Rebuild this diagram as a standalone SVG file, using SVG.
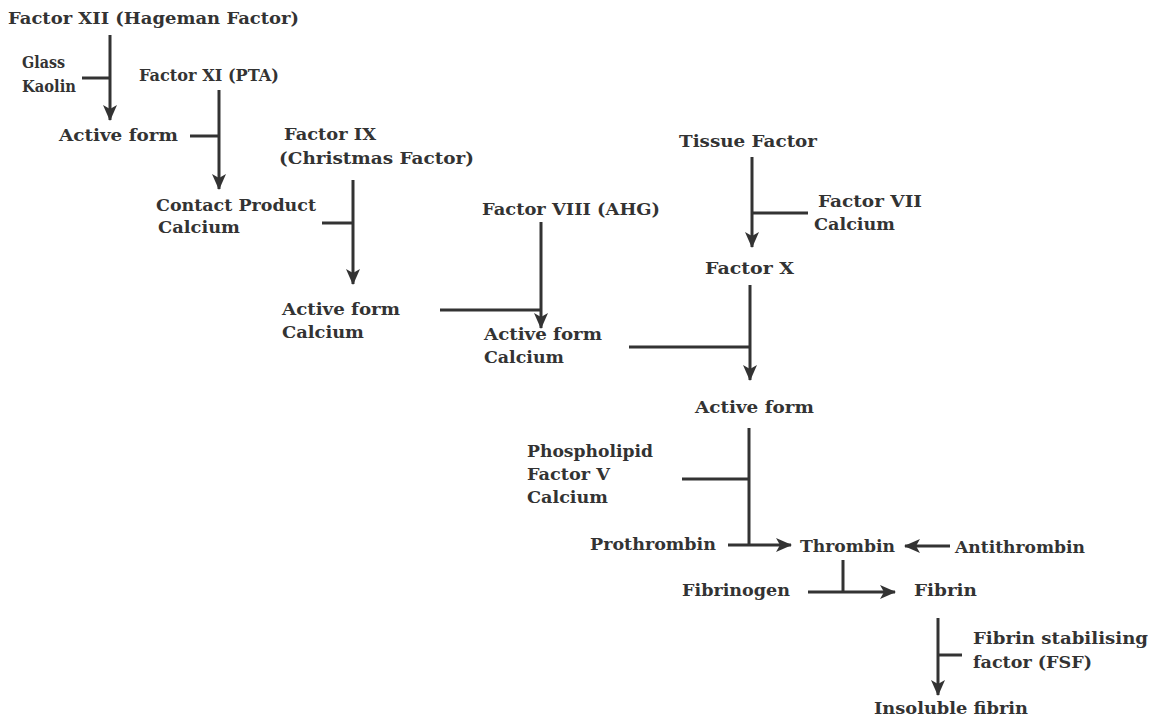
<svg xmlns="http://www.w3.org/2000/svg" width="1156" height="722" viewBox="0 0 1156 722">
<style>
text{font-family:"DejaVu Serif","Liberation Serif",serif;font-weight:bold;font-size:17.5px;fill:#333}
.c line{stroke:#333;stroke-width:3;fill:none}
.a{marker-end:url(#ah)}
</style>
<defs>
<marker id="ah" markerUnits="userSpaceOnUse" viewBox="0 0 16 16" refX="15" refY="8" markerWidth="16" markerHeight="16" orient="auto">
<path d="M0,1 L16,8 L0,15 L4,8 z" fill="#333"/>
</marker>
</defs>
<rect width="1156" height="722" fill="#fff"/>
<g id="n-f12"><text x="8" y="24" textLength="291" lengthAdjust="spacingAndGlyphs">Factor XII (Hageman Factor)</text></g>
<g id="n-glass"><text x="22" y="68" textLength="43" lengthAdjust="spacingAndGlyphs">Glass</text><text x="22" y="92" textLength="54" lengthAdjust="spacingAndGlyphs">Kaolin</text></g>
<g id="n-f11"><text x="139" y="81" textLength="140" lengthAdjust="spacingAndGlyphs">Factor XI (PTA)</text></g>
<g id="n-act1"><text x="59" y="141" textLength="119" lengthAdjust="spacingAndGlyphs">Active form</text></g>
<g id="n-f9"><text x="284" y="140" textLength="92" lengthAdjust="spacingAndGlyphs">Factor IX</text><text x="279" y="164" textLength="195" lengthAdjust="spacingAndGlyphs">(Christmas Factor)</text></g>
<g id="n-contact"><text x="156" y="211" textLength="160" lengthAdjust="spacingAndGlyphs">Contact Product</text><text x="158" y="233" textLength="82" lengthAdjust="spacingAndGlyphs">Calcium</text></g>
<g id="n-f8"><text x="482" y="215" textLength="178" lengthAdjust="spacingAndGlyphs">Factor VIII (AHG)</text></g>
<g id="n-act9"><text x="282" y="315" textLength="118" lengthAdjust="spacingAndGlyphs">Active form</text><text x="282" y="338" textLength="82" lengthAdjust="spacingAndGlyphs">Calcium</text></g>
<g id="n-act8"><text x="484" y="340" textLength="118" lengthAdjust="spacingAndGlyphs">Active form</text><text x="484" y="363" textLength="80" lengthAdjust="spacingAndGlyphs">Calcium</text></g>
<g id="n-tissue"><text x="679" y="147" textLength="138" lengthAdjust="spacingAndGlyphs">Tissue Factor</text></g>
<g id="n-f7"><text x="818" y="207" textLength="104" lengthAdjust="spacingAndGlyphs">Factor VII</text><text x="814" y="230" textLength="81" lengthAdjust="spacingAndGlyphs">Calcium</text></g>
<g id="n-f10"><text x="705" y="274" textLength="89" lengthAdjust="spacingAndGlyphs">Factor X</text></g>
<g id="n-act10"><text x="695" y="413" textLength="119" lengthAdjust="spacingAndGlyphs">Active form</text></g>
<g id="n-phos"><text x="527" y="457" textLength="126" lengthAdjust="spacingAndGlyphs">Phospholipid</text><text x="527" y="480" textLength="83" lengthAdjust="spacingAndGlyphs">Factor V</text><text x="527" y="503" textLength="81" lengthAdjust="spacingAndGlyphs">Calcium</text></g>
<g id="n-prothrombin"><text x="590" y="550" textLength="126" lengthAdjust="spacingAndGlyphs">Prothrombin</text></g>
<g id="n-thrombin"><text x="800" y="552" textLength="95" lengthAdjust="spacingAndGlyphs">Thrombin</text></g>
<g id="n-antithrombin"><text x="955" y="553" textLength="130" lengthAdjust="spacingAndGlyphs">Antithrombin</text></g>
<g id="n-fibrinogen"><text x="682" y="596" textLength="108" lengthAdjust="spacingAndGlyphs">Fibrinogen</text></g>
<g id="n-fibrin"><text x="914" y="596" textLength="63" lengthAdjust="spacingAndGlyphs">Fibrin</text></g>
<g id="n-fsf"><text x="973" y="644" textLength="175" lengthAdjust="spacingAndGlyphs">Fibrin stabilising</text><text x="973" y="668" textLength="119" lengthAdjust="spacingAndGlyphs">factor (FSF)</text></g>
<g id="n-insoluble"><text x="874" y="714" textLength="154" lengthAdjust="spacingAndGlyphs">Insoluble fibrin</text></g>
<g id="connectors" class="c">
<line class="a" x1="110" y1="35" x2="110" y2="120"/>
<line x1="82" y1="78" x2="110" y2="78"/>
<line class="a" x1="219" y1="90" x2="219" y2="189"/>
<line x1="190" y1="136" x2="219" y2="136"/>
<line class="a" x1="353" y1="180" x2="353" y2="284"/>
<line x1="322" y1="223" x2="353" y2="223"/>
<line class="a" x1="541" y1="222" x2="541" y2="328"/>
<line x1="440" y1="310" x2="541" y2="310"/>
<line class="a" x1="752" y1="157" x2="752" y2="247"/>
<line x1="752" y1="213" x2="808" y2="213"/>
<line class="a" x1="750" y1="285" x2="750" y2="380"/>
<line x1="629" y1="347" x2="750" y2="347"/>
<line x1="749" y1="428" x2="749" y2="545"/>
<line x1="682" y1="479" x2="749" y2="479"/>
<line class="a" x1="728" y1="545" x2="791" y2="545"/>
<line class="a" x1="950" y1="546" x2="905" y2="546"/>
<line x1="843" y1="560" x2="843" y2="592"/>
<line class="a" x1="808" y1="592" x2="895" y2="592"/>
<line class="a" x1="938" y1="618" x2="938" y2="695"/>
<line x1="938" y1="655" x2="962" y2="655"/>
</g>
</svg>
